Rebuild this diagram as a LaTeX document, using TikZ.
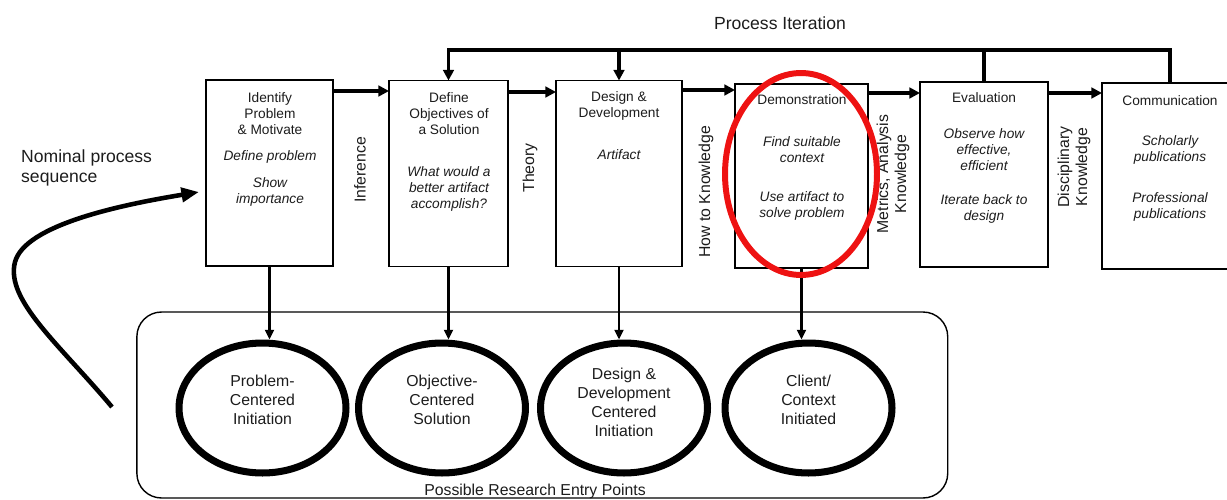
\documentclass[tikz,border=0pt]{standalone}
\usepackage{fontspec}
\setmainfont{Liberation Sans}
\usepackage{tikz}
\usetikzlibrary{arrows.meta,positioning,shapes.geometric}
\usepackage{xcolor}
\definecolor{inkgray}{RGB}{28,28,28}
\definecolor{markred}{RGB}{238,18,18}
\newcommand\boxfont{\fontsize{7.8}{9.1}\selectfont}
\newcommand\sidefont{\fontsize{9}{10.3}\selectfont}
\newcommand\entryfont{\fontsize{9}{10.8}\selectfont}
\newcommand\bigfont{\fontsize{10}{11.6}\selectfont}

\begin{document}
\begin{tikzpicture}[x=0.02cm,y=-0.02cm,
    stage/.style={draw=black,line width=1.1pt,minimum height=3.72cm,inner sep=0pt,outer sep=0pt},
    txt/.style={text=inkgray,align=center,font=\boxfont,inner sep=0pt},
    note/.style={txt,font=\boxfont\itshape},
    side/.style={rotate=90,text=inkgray,align=center,font=\sidefont,inner sep=0pt},
    entry/.style={ellipse,draw=black,line width=4pt,minimum width=3.34cm,minimum height=2.6cm,
        align=center,text=inkgray,font=\entryfont,inner sep=0pt,text depth=9pt},
    flow/.style={line width=2pt,-{Triangle[length=6pt,width=6pt]}},
    plain/.style={line width=2pt},
    drop/.style={line width=1.4pt,-{Triangle[length=5.5pt,width=5pt]}}]
    \useasboundingbox (0,0) rectangle (1227,500);
    \clip (0,0) rectangle (1227,500);

    % process stages
    \node[stage,minimum width=2.54cm] (s1) at (269.5,173) {};
    \node[stage,minimum width=2.38cm] (s2) at (448.5,173.5) {};
    \node[stage,minimum width=2.52cm] (s3) at (619,173.5) {};
    \node[stage,minimum width=2.66cm,minimum height=3.68cm] (s4) at (801.5,176) {};
    \node[stage,minimum width=2.56cm,minimum height=3.70cm] (s5) at (984,174.5) {};
    \node[stage,minimum width=2.72cm] (s6) at (1170,176) {};

    \node[txt] (s1t) at (270,114) {Identify\\Problem\\\& Motivate};
    \node[note] (s1a) at (270,157) {Define problem};
    \node[note] (s1b) at (270,191.5) {Show\\importance};
    \node[txt] (s2t) at (449,114) {Define\\Objectives of\\a Solution};
    \node[note] (s2a) at (449,188.5) {What would a\\better artifact\\accomplish?};
    \node[txt] (s3t) at (619,105.5) {Design \&\\Development};
    \node[note] (s3a) at (619,155) {Artifact};
    \node[txt] (s4t) at (802,100) {Demonstration};
    \node[note] (s4a) at (802,149.5) {Find suitable\\context};
    \node[note] (s4b) at (802,206) {Use artifact to\\solve problem};
    \node[txt] (s5t) at (984,98) {Evaluation};
    \node[note] (s5a) at (984,149.5) {Observe how\\effective,\\efficient};
    \node[note] (s5b) at (984,208.5) {Iterate back to\\design};
    \node[txt] (s6t) at (1170,101) {Communication};
    \node[note] (s6a) at (1170,149.5) {Scholarly\\publications};
    \node[note] (s6b) at (1170,206.5) {Professional\\publications};

    % knowledge between stages
    \node[side] (inf) at (360,170) {Inference};
    \node[side] (theo) at (530,168) {Theory};
    \node[side] (howto) at (706,192) {How to Knowledge};
    \node[side] (metr) at (893,174) {Metrics, Analysis\\Knowledge};
    \node[side] (disc) at (1074,167) {Disciplinary\\Knowledge};

    \draw[flow] (s1.east |- 0,91) -- (s2.west |- 0,91);
    \draw[flow] (s2.east |- 0,92) -- (s3.west |- 0,92);
    \draw[flow] (s3.east |- 0,90) -- (s4.west |- 0,90);
    \draw[flow] (s4.east |- 0,93) -- (s5.west |- 0,93);
    \draw[flow] (s5.east |- 0,93) -- (s6.west |- 0,93);

    % process iteration
    \coordinate (loop) at (0,50);
    \node[font=\bigfont,text=inkgray] (iter) at (780,23) {Process Iteration};
    \draw[flow] (s6.north) -- (s6.north |- loop) -- (s2.north |- loop) -- (s2.north);
    \draw[flow] (s3.north |- loop) -- (s3.north);
    \draw[plain] (s5.north) -- (s5.north |- loop);

    % entry points
    \node[draw=black,line width=0.8pt,rounded corners=14pt,minimum width=16.22cm,minimum height=3.72cm] (box) at (542.3,405) {};
    \node[font=\entryfont,text=inkgray] (boxlbl) at (535,491) {Possible Research Entry Points};
    \node[entry] (c1) at (262.5,408) {Problem-\\Centered\\Initiation};
    \node[entry] (c2) at (442,408) {Objective-\\Centered\\Solution};
    \node[entry,text depth=6pt] (c3) at (624,408) {Design \&\\Development\\Centered\\Initiation};
    \node[entry] (c4) at (808.5,408) {Client/\\Context\\Initiated};

    \draw[drop] (s1.south) -- (s1.south |- c1.north);
    \draw[drop] (s2.south) -- (s2.south |- c2.north);
    \draw[drop] (s3.south) -- (s3.south |- c3.north);
    \draw[drop] (s4.south) -- (s4.south |- c4.north);

    % nominal sequence
    \node[font=\bigfont,text=inkgray,align=left,anchor=west] (nom) at (15,168) {Nominal process\\sequence};
    \coordinate (nomstart) at (112,407);
    \coordinate (nomend) at (199,192);
    \draw[line width=2.6pt,-{Triangle[length=10pt,width=8pt]}] (nomstart)
        .. controls (60,345) and (5,300) .. (15,262)
        .. controls (25,225) and (120,205) .. (nomend);

    \node[ellipse,draw=markred,line width=3.4pt,minimum width=3.04cm,minimum height=4.04cm] (hl) at (801,174) {};
\end{tikzpicture}
\end{document}
